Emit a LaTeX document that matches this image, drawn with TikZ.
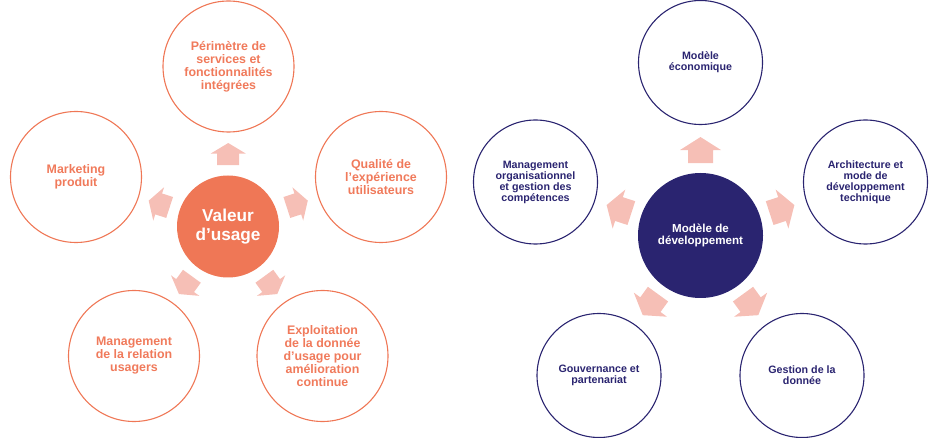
\documentclass[tikz,border=0pt]{standalone}
\usepackage{fontspec}
\setmainfont{Liberation Sans}
\usetikzlibrary{calc}
\definecolor{orng}{HTML}{EF7756}
\definecolor{orngtxt}{HTML}{F07A5B}
\definecolor{navy}{HTML}{2A2470}
\definecolor{pinkarr}{HTML}{F6BFB6}
\tikzset{
  outerL/.style={circle, draw=orng, line width=1.1pt, minimum size=131pt, inner sep=0pt, align=center, text=orngtxt, font=\bfseries\fontsize{12.4}{13}\selectfont},
  centerL/.style={circle, fill=orng, minimum size=102pt, inner sep=0pt, align=center, text=white, font=\bfseries\fontsize{17.2}{19}\selectfont},
  outerR/.style={circle, draw=navy, line width=1.1pt, minimum size=124pt, inner sep=0pt, align=center, text=navy, font=\bfseries\fontsize{10.7}{11}\selectfont},
  centerR/.style={circle, fill=navy, minimum size=125pt, inner sep=0pt, align=center, text=white, font=\bfseries\fontsize{11.6}{12.3}\selectfont},
}
% #1 from, #2 to, #3 angle, #4 fraction, #5 length, #6 head length, #7 head half width, #8 shaft half width
\newcommand\blkarr[8]{%
  \fill[pinkarr, shift={($(#1)!#4!(#2)$)}, rotate=#3]
    ({-(#5)/2*1pt},{-(#8)*1pt}) -- ({((#5)/2-(#6))*1pt},{-(#8)*1pt}) --
    ({((#5)/2-(#6))*1pt},{-(#7)*1pt}) -- ({(#5)/2*1pt},0pt) --
    ({((#5)/2-(#6))*1pt},{(#7)*1pt}) -- ({((#5)/2-(#6))*1pt},{(#8)*1pt}) --
    ({-(#5)/2*1pt},{(#8)*1pt}) -- cycle;}
\begin{document}
\begin{tikzpicture}[x=1pt,y=-1pt]
\useasboundingbox (0,0) rectangle (945,438);
% left diagram
\node[centerL] (vc) at (228,226.5) {Valeur\\d’usage};
\node[outerL] (l1) at (228.5,66.5) {Périmètre de\\services et\\fonctionnalités\\intégrées};
\node[outerL] (l2) at (381,177) {Qualité de\\l’expérience\\utilisateurs};
\node[outerL] (l3) at (322.5,356) {Exploitation\\de la donnée\\d’usage pour\\amélioration\\continue};
\node[outerL] (l4) at (134,356) {Management\\de la relation\\usagers};
\node[outerL] (l5) at (76,177) {Marketing\\produit};
\blkarr{vc}{l1}{90}{0.453}{22}{10.5}{17.5}{11}
\blkarr{vc}{l2}{18}{0.453}{22}{10.5}{17.5}{11}
\blkarr{vc}{l3}{-54}{0.453}{22}{10.5}{17.5}{11}
\blkarr{vc}{l4}{-126}{0.453}{22}{10.5}{17.5}{11}
\blkarr{vc}{l5}{162}{0.453}{22}{10.5}{17.5}{11}
% right diagram
\node[centerR] (mc) at (700.5,235.5) {Modèle de\\développement};
\node[outerR] (r1) at (700.5,62.5) {Modèle\\économique};
\node[outerR] (r2) at (865.5,182) {Architecture et\\mode de\\développement\\technique};
\node[outerR] (r3) at (802,375.5) {Gestion de la\\donnée};
\node[outerR] (r4) at (599,375.5) {Gouvernance et\\partenariat};
\node[outerR] (r5) at (535.5,182) {Management\\organisationnel\\et gestion des\\compétences};
\blkarr{mc}{r1}{90}{0.494}{26}{13}{20.5}{12.5}
\blkarr{mc}{r2}{18}{0.494}{26}{13}{20.5}{12.5}
\blkarr{mc}{r3}{-54}{0.494}{26}{13}{20.5}{12.5}
\blkarr{mc}{r4}{-126}{0.494}{26}{13}{20.5}{12.5}
\blkarr{mc}{r5}{162}{0.494}{26}{13}{20.5}{12.5}
\end{tikzpicture}
\end{document}
